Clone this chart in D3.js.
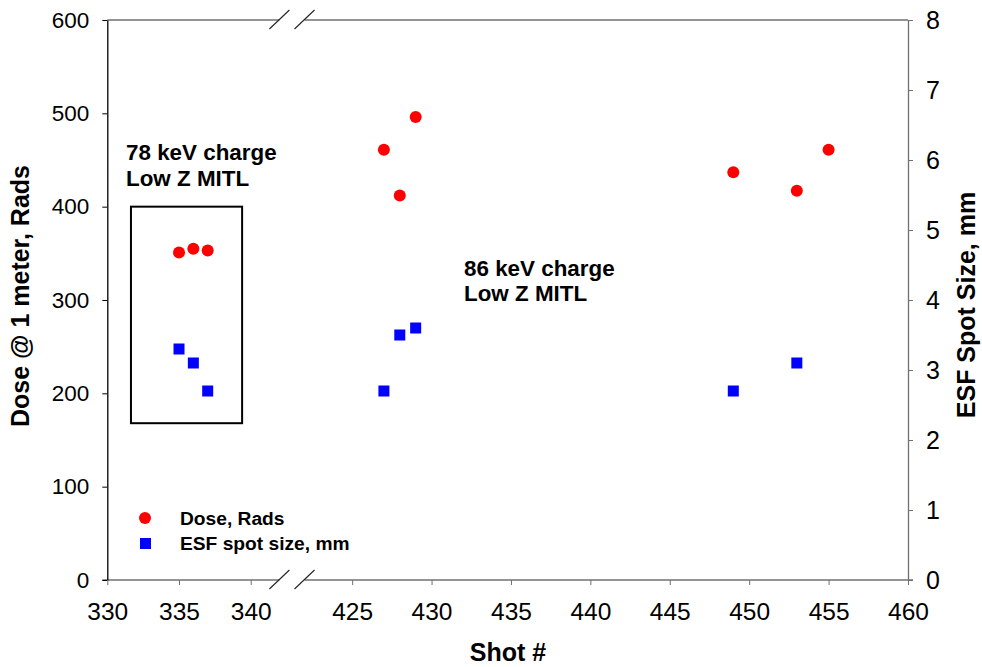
<!DOCTYPE html>
<html><head><meta charset="utf-8">
<script src="https://cdn.jsdelivr.net/npm/d3@7"></script>
<style>body{margin:0;background:#fff}svg{display:block;font-family:"Liberation Sans",Arial,sans-serif}</style>
</head><body><svg id="c" width="982" height="667"></svg>
<script>
const doseShots = [335, 336, 337, 427, 428, 429, 449, 453, 455];
const doseValues = [351, 355, 353, 461, 412, 496, 437, 417, 461];
const esfShots = [335, 336, 337, 427, 428, 429, 449, 453];
const esfValues = [3.3, 3.1, 2.7, 2.7, 3.5, 3.6, 2.7, 3.1];
const xTicksLeft = [330, 335, 340];
const xTicksRight = [425, 430, 435, 440, 445, 450, 455, 460];
const yTicksLeft = [0, 100, 200, 300, 400, 500, 600];
const yTicksRight = [0, 1, 2, 3, 4, 5, 6, 7, 8];
const boxShots = [331.65, 339.4];
const boxDose = [168, 400];

const L = 107.3, R = 908, T = 20, B = 580, brk1 = 279.4, brk2 = 304.5;
const svg = d3.select("#c");
const xL = d3.scaleLinear().domain([330, 342]).range([L, brk1]);
const xR = d3.scaleLinear().domain([422, 460]).range([brk2, R]);
const x = v => v < 400 ? xL(v) : xR(v);
const yL = d3.scaleLinear().domain([0, 600]).range([B, T]);
const yR = d3.scaleLinear().domain([0, 8]).range([B, T]);
const grey = "#707070";
const FF = "Liberation Sans, Arial";

// frame lines
const g = svg.append("g");
[[L, brk1], [brk2, R]].forEach(([a, b]) => {
  g.append("line").attr("x1", a).attr("x2", b).attr("y1", T).attr("y2", T).attr("stroke", grey).attr("stroke-width", 1.3);
});
g.append("line").attr("x1", L - 5).attr("x2", brk1).attr("y1", B).attr("y2", B).attr("stroke", grey).attr("stroke-width", 1.3);
g.append("line").attr("x1", brk2).attr("x2", R + 5).attr("y1", B).attr("y2", B).attr("stroke", grey).attr("stroke-width", 1.3);
// break marks
[T, B].forEach(yy => [brk1, brk2].forEach(xx => {
  g.append("line").attr("x1", xx - 10).attr("y1", yy + 9).attr("x2", xx + 10).attr("y2", yy - 10)
    .attr("stroke", "#222").attr("stroke-width", 1.1);
}));

// left y axis
const ay = svg.append("g").attr("transform", `translate(${L},0)`)
  .call(d3.axisLeft(yL).tickValues(yTicksLeft).tickSize(5).tickSizeOuter(0).tickPadding(13));
ay.select(".domain").attr("stroke", "#000").attr("stroke-width", 1.3);
ay.selectAll(".tick line").attr("stroke", "#000");
ay.selectAll("text").attr("font-size", 22.5).attr("font-family", FF).attr("fill", "#000");

// right y axis
const ayr = svg.append("g").attr("transform", `translate(${R},0)`)
  .call(d3.axisRight(yR).tickValues(yTicksRight).tickSize(5).tickSizeOuter(0).tickPadding(13));
ayr.select(".domain").attr("stroke", grey).attr("stroke-width", 1.3);
ayr.selectAll(".tick line").attr("stroke", grey);
ayr.selectAll("text").attr("font-size", 25).attr("font-family", FF).attr("fill", "#000");

// bottom axes
[[xL, xTicksLeft], [xR, xTicksRight]].forEach(([sc, tv]) => {
  const ax = svg.append("g").attr("transform", `translate(0,${B})`)
    .call(d3.axisBottom(sc).tickValues(tv).tickSize(5).tickSizeOuter(0).tickPadding(18));
  ax.select(".domain").remove();
  ax.selectAll(".tick line").attr("stroke", grey);
  ax.selectAll("text").attr("font-size", 24.5).attr("font-family", FF).attr("fill", "#000");
});

// titles
svg.append("text").attr("x", 508).attr("y", 661).attr("text-anchor", "middle")
  .attr("font-size", 25).attr("font-weight", "bold").text("Shot #");
svg.append("text").attr("transform", `translate(29,${296}) rotate(-90)`).attr("text-anchor", "middle")
  .attr("font-size", 25).attr("font-weight", "bold").text("Dose @ 1 meter, Rads");
svg.append("text").attr("transform", `translate(975,${305}) rotate(-90)`).attr("text-anchor", "middle")
  .attr("font-size", 25).attr("font-weight", "bold").text("ESF Spot Size, mm");

// box annotation
svg.append("rect").attr("x", xL(boxShots[0])).attr("y", yL(boxDose[1]))
  .attr("width", xL(boxShots[1]) - xL(boxShots[0])).attr("height", yL(boxDose[0]) - yL(boxDose[1]))
  .attr("fill", "none").attr("stroke", "#000").attr("stroke-width", 2);

const ann = [["78 keV charge", 126, 160], ["Low Z MITL", 126, 186], ["86 keV charge", 464, 276], ["Low Z MITL", 464, 301]];
ann.forEach(([t, xx, yy]) => svg.append("text").attr("x", xx).attr("y", yy)
  .attr("font-size", 22.4).attr("font-weight", "bold").text(t));

// points
svg.append("g").selectAll("circle").data(doseShots).join("circle")
  .attr("cx", d => x(d)).attr("cy", (d, i) => yL(doseValues[i])).attr("r", 6).attr("fill", "#ff0000");
svg.append("g").selectAll("rect").data(esfShots).join("rect")
  .attr("x", d => x(d) - 5.5).attr("y", (d, i) => yR(esfValues[i]) - 5.5).attr("width", 11).attr("height", 11).attr("fill", "#0000ff");

// legend
svg.append("circle").attr("cx", 145).attr("cy", 518).attr("r", 6).attr("fill", "#ff0000");
svg.append("rect").attr("x", 140).attr("y", 538).attr("width", 11).attr("height", 11).attr("fill", "#0000ff");
svg.append("text").attr("x", 180).attr("y", 525).attr("font-size", 19.2).attr("font-weight", "bold").text("Dose, Rads");
svg.append("text").attr("x", 180).attr("y", 550).attr("font-size", 19.2).attr("font-weight", "bold").text("ESF spot size, mm");
</script></body></html>
